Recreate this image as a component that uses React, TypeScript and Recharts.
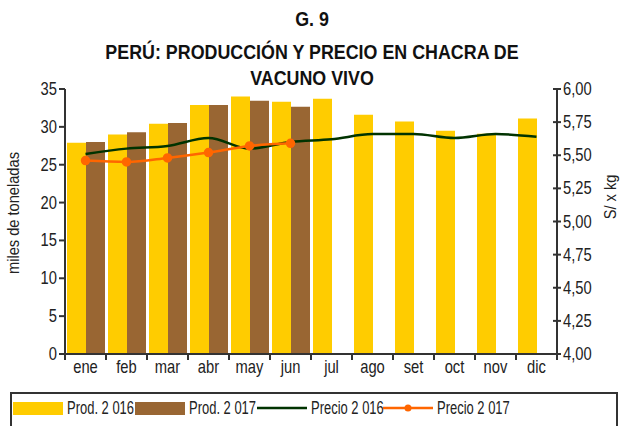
import {
  ComposedChart,
  Bar,
  Line,
  XAxis,
  YAxis,
} from "recharts";

const months = ["ene", "feb", "mar", "abr", "may", "jun", "jul", "ago", "set", "oct", "nov", "dic"];
const prod2016 = [27.9, 29.0, 30.4, 32.9, 34.0, 33.3, 33.7, 31.6, 30.7, 29.5, 29.1, 31.1];
const prod2017 = [28.0, 29.3, 30.5, 32.9, 33.45, 32.65, null, null, null, null, null, null];
const precio2016 = [5.51, 5.55, 5.57, 5.63, 5.55, 5.6, 5.62, 5.66, 5.66, 5.63, 5.66, 5.64];
const precio2017 = [5.46, 5.45, 5.48, 5.52, 5.57, 5.59, null, null, null, null, null, null];

const leftTicks = [0, 5, 10, 15, 20, 25, 30, 35];
const rightTicks = [4, 4.25, 4.5, 4.75, 5, 5.25, 5.5, 5.75, 6];

const data = months.map((m, i) => ({
  month: m,
  p16: prod2016[i],
  p17: prod2017[i],
  pr16: precio2016[i],
  pr17: precio2017[i],
}));

const FONT = "'Liberation Sans', Arial, sans-serif";
const AXIS = "#333";
const BAND = (557 - 65) / 12;
const NARROW = 0.82;

const MonthTick = (props: any) => {
  const { x, y, payload, index } = props;
  const axisY = y - 8;
  return (
    <g>
      <line x1={x - BAND / 2} x2={x - BAND / 2} y1={axisY} y2={axisY + 6} stroke={AXIS} strokeWidth={2} />
      {index === months.length - 1 && (
        <line x1={x + BAND / 2} x2={x + BAND / 2} y1={axisY} y2={axisY + 6} stroke={AXIS} strokeWidth={2} />
      )}
      <text transform={`translate(${x},${y}) scale(${NARROW},1)`} dy={11} textAnchor="middle" fontSize={18} fontFamily={FONT} fill="#222">
        {payload.value}
      </text>
    </g>
  );
};

const RightTick = (props: any) => {
  const { x, y, payload } = props;
  const axisX = x - 6;
  return (
    <g>
      <line x1={axisX - 4} x2={axisX + 4} y1={y} y2={y} stroke={AXIS} strokeWidth={2} />
      <text transform={`translate(${x},${y}) scale(${NARROW},1)`} dy={6} textAnchor="start" fontSize={18} fontFamily={FONT} fill="#222">
        {payload.value.toFixed(2).replace(".", ",")}
      </text>
    </g>
  );
};

const LeftTick = (props: any) => {
  const { x, y, payload } = props;
  return (
    <text transform={`translate(${x},${y}) scale(${NARROW},1)`} dy={6} textAnchor="end" fontSize={18} fontFamily={FONT} fill="#222">
      {payload.value}
    </text>
  );
};

const legendItems = [
  { label: "Prod. 2 016", kind: "bar", color: "#FFCC00", left: 13 },
  { label: "Prod. 2 017", kind: "bar", color: "#996633", left: 135 },
  { label: "Precio 2 016", kind: "line", color: "#003300", left: 257 },
  { label: "Precio 2 017", kind: "dot", color: "#FF6600", left: 383 },
];

export default function App() {
  return (
    <div style={{ position: "absolute", left: 0, top: 0, width: 623, height: 426, background: "#fff", overflow: "hidden", fontFamily: FONT }}>
      <div style={{ position: "absolute", left: 0, top: 4, width: 624, textAlign: "center", fontWeight: "bold", fontSize: 21, lineHeight: "30px", color: "#111", transform: "scaleX(0.85)", transformOrigin: "312px 0" }}>
        <div style={{ marginBottom: 4 }}>G. 9</div>
        <div style={{ lineHeight: "28px" }}>PERÚ: PRODUCCIÓN Y PRECIO EN CHACRA DE</div>
        <div style={{ lineHeight: "24px" }}>VACUNO VIVO</div>
      </div>
      <div style={{ position: "absolute", left: 0, top: 0 }}>
        <ComposedChart
          width={623}
          height={390}
          data={data}
          margin={{ top: 89, right: 10, bottom: 6, left: 0 }}
          barCategoryGap={2}
          barGap={0}
        >
          <XAxis
            dataKey="month"
            height={30}
            axisLine={{ stroke: AXIS, strokeWidth: 2 }}
            tickLine={false}
            tick={<MonthTick />}
            interval={0}
          />
          <YAxis
            yAxisId="left"
            width={65}
            domain={[0, 35]}
            ticks={leftTicks}
            axisLine={{ stroke: AXIS, strokeWidth: 2 }}
            tickLine={{ stroke: AXIS, strokeWidth: 2 }}
            tickSize={6}
            tick={<LeftTick />}
          />
          <YAxis
            yAxisId="right"
            orientation="right"
            width={56}
            domain={[4, 6]}
            ticks={rightTicks}
            axisLine={{ stroke: AXIS, strokeWidth: 2 }}
            tickLine={false}
            tickSize={4}
            tickMargin={2}
            tick={<RightTick />}
          />
          <Bar yAxisId="left" dataKey="p16" fill="#FFCC00" isAnimationActive={false} />
          <Bar yAxisId="left" dataKey="p17" fill="#996633" isAnimationActive={false} />
          <Line yAxisId="right" type="monotone" dataKey="pr16" stroke="#003300" strokeWidth={2.5} dot={false} isAnimationActive={false} />
          <Line yAxisId="right" type="monotone" dataKey="pr17" stroke="#FF6600" strokeWidth={2.5} dot={{ r: 3.5, fill: "#FF6600", stroke: "#FF6600" }} isAnimationActive={false} />
        </ComposedChart>
      </div>
      <div style={{ position: "absolute", left: 14, top: 213, width: 0, height: 0 }}>
        <div style={{ position: "absolute", left: -80, top: -10, width: 160, textAlign: "center", fontSize: 17, lineHeight: "20px", color: "#222", whiteSpace: "nowrap", transform: "rotate(-90deg) scaleX(0.86)" }}>
          miles de toneladas
        </div>
      </div>
      <div style={{ position: "absolute", left: 611, top: 197, width: 0, height: 0 }}>
        <div style={{ position: "absolute", left: -50, top: -10, width: 100, textAlign: "center", fontSize: 17, lineHeight: "20px", color: "#222", whiteSpace: "nowrap", transform: "rotate(-90deg) scaleX(0.86)" }}>
          S/ x kg
        </div>
      </div>
      <div style={{ position: "absolute", left: 10, top: 392, width: 608, height: 40, border: "2px solid #333", boxSizing: "border-box" }} />
      {legendItems.map((it) => (
        <div key={it.label} style={{ position: "absolute", left: it.left, top: 397, height: 22, display: "flex", alignItems: "center", fontSize: 18, color: "#222", whiteSpace: "nowrap" }}>
          {it.kind === "bar" ? (
            <div style={{ width: 50, height: 13, background: it.color }} />
          ) : (
            <svg width={50} height={14}>
              <line x1={0} x2={50} y1={7} y2={7} stroke={it.color} strokeWidth={2.5} />
              {it.kind === "dot" && <circle cx={25} cy={7} r={3.5} fill={it.color} />}
            </svg>
          )}
          <span style={{ marginLeft: 4, display: "inline-block", transform: "scaleX(0.72)", transformOrigin: "0 50%" }}>{it.label}</span>
        </div>
      ))}
    </div>
  );
}
